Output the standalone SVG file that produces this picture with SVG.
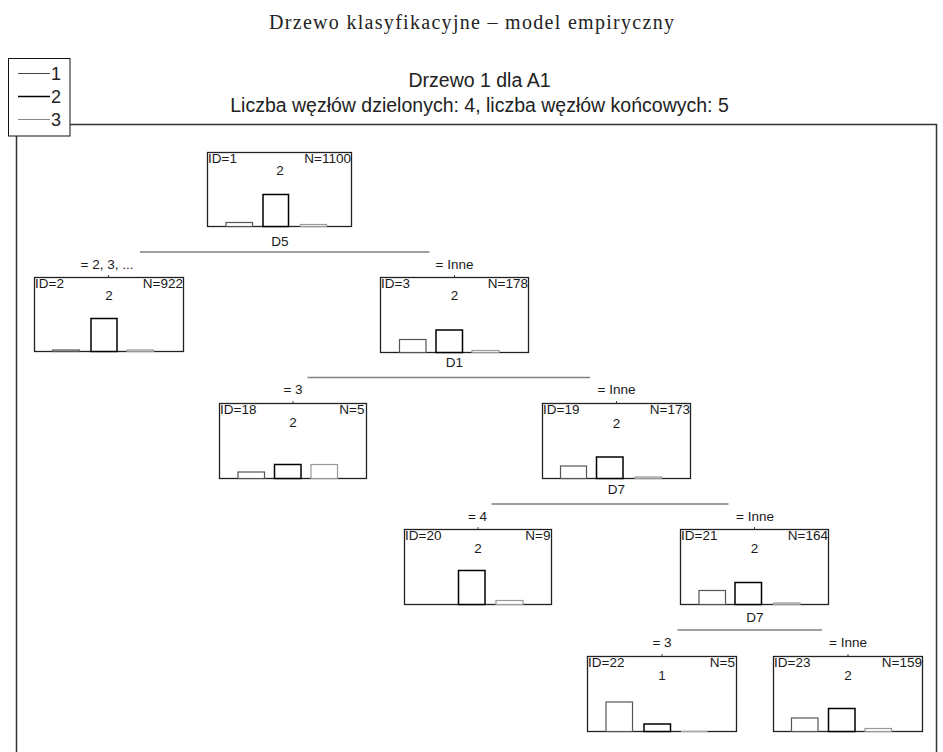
<svg xmlns="http://www.w3.org/2000/svg" width="943" height="752" viewBox="0 0 943 752">
<style>
.title{font-family:"Liberation Serif","DejaVu Serif",serif;font-size:20px;fill:#222;text-anchor:middle}
.hdr{font-family:"Liberation Sans",Arial,sans-serif;font-size:19.5px;fill:#222;text-anchor:middle}
.leg{font-family:"Liberation Sans",Arial,sans-serif;font-size:18px;fill:#222}
.t{font-family:"Liberation Sans",Arial,sans-serif;font-size:13.5px;fill:#1a1a1a}
.m{text-anchor:middle}
.e{text-anchor:end}
.box{fill:none;stroke:#222;stroke-width:1.3}
.c1{fill:#fff;stroke:#555;stroke-width:1.2}
.c2{fill:#fff;stroke:#000;stroke-width:1.5}
.c3{fill:#fff;stroke:#999;stroke-width:1.2}
.split{stroke:#808080;stroke-width:1.5;fill:none}
.tick{stroke:#444;stroke-width:1}
</style>
<rect x="0" y="0" width="943" height="752" fill="#fff"/>
<text class="title" x="471.5" y="29" textLength="405" lengthAdjust="spacing">Drzewo klasyfikacyjne – model empiryczny</text>
<g id="frame">
<rect x="16.5" y="124.5" width="920" height="660" fill="#fff" stroke="#333" stroke-width="1.5"/>
</g>
<g id="legend">
<rect x="8.5" y="58.5" width="61.5" height="77.5" fill="#fff" stroke="#111" stroke-width="1"/>
<line x1="18" y1="73.5" x2="50" y2="73.5" stroke="#444" stroke-width="1"/>
<line x1="18" y1="96.5" x2="50" y2="96.5" stroke="#000" stroke-width="1.5"/>
<line x1="18" y1="119.5" x2="50" y2="119.5" stroke="#888" stroke-width="1"/>
<text class="leg" x="51" y="80">1</text>
<text class="leg" x="51" y="103">2</text>
<text class="leg" x="51" y="126">3</text>
</g>
<g id="header">
<text class="hdr" x="479.5" y="87">Drzewo 1 dla A1</text>
<text class="hdr" x="479.5" y="112">Liczba węzłów dzielonych: 4, liczba węzłów końcowych: 5</text>
</g>
<g id="connectors">
<line class="split" x1="140" y1="252" x2="429.5" y2="252"/>
<line class="split" x1="307.5" y1="377.5" x2="590" y2="377.5"/>
<line class="split" x1="491.5" y1="504" x2="728.5" y2="504"/>
<line class="split" x1="677.5" y1="630" x2="822" y2="630"/>
<line class="tick" x1="108.5" y1="275" x2="108.5" y2="277.5"/>
<line class="tick" x1="454.5" y1="275" x2="454.5" y2="277.5"/>
<line class="tick" x1="293" y1="401" x2="293" y2="403.5"/>
<line class="tick" x1="616.5" y1="401" x2="616.5" y2="403.5"/>
<line class="tick" x1="478" y1="527" x2="478" y2="529.5"/>
<line class="tick" x1="754.5" y1="527" x2="754.5" y2="529.5"/>
<line class="tick" x1="662" y1="654" x2="662" y2="656.5"/>
<line class="tick" x1="848" y1="654" x2="848" y2="656.5"/>
<text class="t m" x="280" y="245.5">D5</text>
<text class="t m" x="454.5" y="367">D1</text>
<text class="t m" x="616.5" y="494">D7</text>
<text class="t m" x="755" y="622">D7</text>
<text class="t m" x="107" y="268.5">= 2, 3, ...</text>
<text class="t m" x="454.5" y="268.5">= Inne</text>
<text class="t m" x="293" y="393.5">= 3</text>
<text class="t m" x="616.5" y="393.5">= Inne</text>
<text class="t m" x="477.5" y="520.5">= 4</text>
<text class="t m" x="755" y="520.5">= Inne</text>
<text class="t m" x="662" y="646.5">= 3</text>
<text class="t m" x="848" y="646.5">= Inne</text>
</g>
<g id="node1">
<rect class="box" x="207.5" y="152.5" width="144" height="74"/>
<rect class="c1" x="226" y="222.5" width="26.5" height="4"/>
<rect class="c2" x="263" y="194.5" width="25.5" height="32"/>
<rect class="c3" x="300.5" y="224.5" width="26" height="2" fill="#888"/>
<text class="t" x="208" y="162.5">ID=1</text>
<text class="t m" x="280" y="175">2</text>
<text class="t e" x="351" y="162.5">N=1100</text>
</g>
<g id="node2">
<rect class="box" x="34.5" y="277.5" width="149" height="74"/>
<rect class="c1" x="52.5" y="350" width="27" height="1.5"/>
<rect class="c2" x="91" y="318.5" width="26" height="33"/>
<rect class="c3" x="127" y="350" width="26.5" height="1.5"/>
<text class="t" x="35" y="287.5">ID=2</text>
<text class="t m" x="109" y="300">2</text>
<text class="t e" x="183" y="287.5">N=922</text>
</g>
<g id="node3">
<rect class="box" x="380.5" y="277.5" width="148" height="75"/>
<rect class="c1" x="399.5" y="339.5" width="26.5" height="13"/>
<rect class="c2" x="436" y="330" width="26.5" height="22.5"/>
<rect class="c3" x="472" y="350.5" width="27" height="2"/>
<text class="t" x="381" y="287.5">ID=3</text>
<text class="t m" x="454.5" y="300">2</text>
<text class="t e" x="528" y="287.5">N=178</text>
</g>
<g id="node18">
<rect class="box" x="219.5" y="403.5" width="147" height="75"/>
<rect class="c1" x="238" y="472" width="26.5" height="6.5"/>
<rect class="c2" x="274.5" y="464.5" width="26.5" height="14"/>
<rect class="c3" x="311" y="464.5" width="26.5" height="14"/>
<text class="t" x="220" y="413.5">ID=18</text>
<text class="t m" x="293" y="426.5">2</text>
<text class="t e" x="364.5" y="413.5">N=5</text>
</g>
<g id="node19">
<rect class="box" x="542.5" y="403.5" width="148" height="75"/>
<rect class="c1" x="560.5" y="466" width="26" height="12.5"/>
<rect class="c2" x="596.5" y="457" width="26.5" height="21.5"/>
<rect class="c3" x="635" y="477" width="26.5" height="1.5"/>
<text class="t" x="543" y="413.5">ID=19</text>
<text class="t m" x="616.5" y="428">2</text>
<text class="t e" x="690" y="413.5">N=173</text>
</g>
<g id="node20">
<rect class="box" x="404.5" y="529.5" width="147" height="75"/>
<rect class="c2" x="458.5" y="570.5" width="26.5" height="34"/>
<rect class="c3" x="496" y="600.5" width="27" height="4"/>
<text class="t" x="405" y="539.5">ID=20</text>
<text class="t m" x="478" y="553">2</text>
<text class="t e" x="550.5" y="539.5">N=9</text>
</g>
<g id="node21">
<rect class="box" x="680.5" y="529.5" width="148" height="75"/>
<rect class="c1" x="699" y="590.5" width="26.5" height="14"/>
<rect class="c2" x="735" y="582.5" width="26.5" height="22"/>
<rect class="c3" x="773.5" y="603" width="26.5" height="1.5"/>
<text class="t" x="681" y="539.5">ID=21</text>
<text class="t m" x="754.5" y="553">2</text>
<text class="t e" x="828" y="539.5">N=164</text>
</g>
<g id="node22">
<rect class="box" x="587.5" y="656.5" width="149" height="75"/>
<rect class="c1" x="606" y="702" width="26.5" height="29.5"/>
<rect class="c2" x="644" y="724" width="26.5" height="7.5"/>
<line x1="681" y1="731.5" x2="707.5" y2="731.5" stroke="#aaa" stroke-width="1.3"/>
<text class="t" x="588" y="666.5">ID=22</text>
<text class="t m" x="662" y="680">1</text>
<text class="t e" x="735" y="666.5">N=5</text>
</g>
<g id="node23">
<rect class="box" x="773.5" y="656.5" width="149" height="75"/>
<rect class="c1" x="791.5" y="718" width="26.5" height="13.5"/>
<rect class="c2" x="828.5" y="708.5" width="26.5" height="23"/>
<rect class="c3" x="865" y="728.5" width="26.5" height="3"/>
<text class="t" x="774" y="666.5">ID=23</text>
<text class="t m" x="848" y="680">2</text>
<text class="t e" x="922" y="666.5">N=159</text>
</g>
</svg>
